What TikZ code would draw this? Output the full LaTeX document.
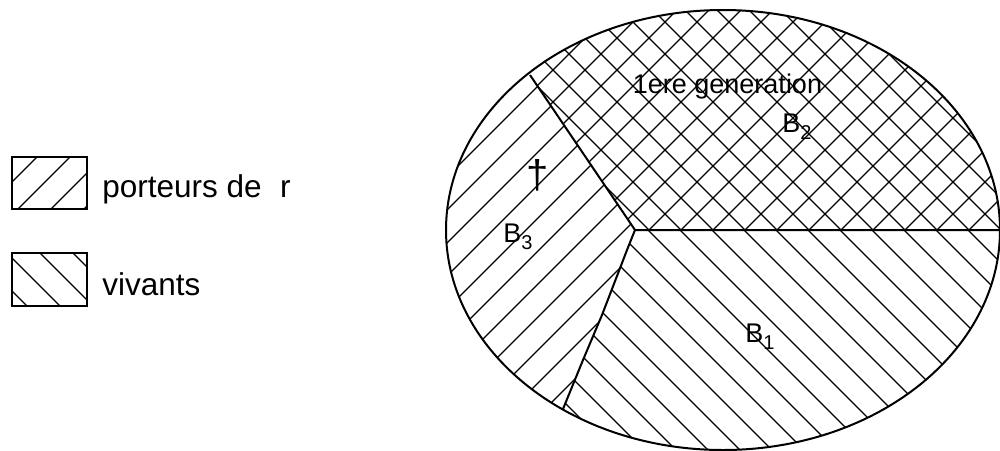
\documentclass[tikz,border=0pt]{standalone}
\usepackage{fontspec}
\setmainfont{Liberation Sans}
\newcommand\sbs[1]{\raisebox{-3.5pt}{\fontsize{10}{10}\selectfont #1}}
\begin{document}
\begin{tikzpicture}[x=0.5pt,y=-0.5pt,
  hatch/.style={line width=0.6pt},
  bound/.style={line width=1pt},
  legbox/.style={draw,line width=0.8pt,minimum width=37.5pt,minimum height=26pt,inner sep=0pt},
  legtext/.style={anchor=base west,inner sep=0pt,font=\fontsize{15.75}{18}\selectfont},
  lab/.style={anchor=base west,inner sep=0pt,font=\fontsize{13.5}{16}\selectfont}]
\useasboundingbox (0,0) rectangle (1000,450);
% key points of the partition
\coordinate (T) at (530,75);
\coordinate (C) at (635,230);
\coordinate (R) at (1010,230);
\coordinate (L1) at (627,250);
\coordinate (L2) at (602,315);
\coordinate (L3) at (583,360);
\coordinate (Bt) at (563,409);
\coordinate (Bx) at (542,460);
\coordinate (Tx) at (472,-10);
% B2 : cross hatching
\begin{scope}
  \clip (723,230) ellipse [x radius=138.5pt,y radius=110pt];
  \clip (Tx) -- (T) -- (C) -- (R) -- (1010,-10) -- cycle;
  \foreach \c in {399,431,...,1300} \draw[hatch] (\c+10,-10) -- (\c-470,470);
  \foreach \c in {195,227,...,1050} \draw[hatch] (\c-10,-10) -- (\c+470,470);
\end{scope}
% B3 : "/" hatching
\begin{scope}
  \clip (723,230) ellipse [x radius=138.5pt,y radius=110pt];
  \clip (Tx) -- (T) -- (C) -- (L1) -- (L2) -- (L3) -- (Bt) -- (Bx) -- (400,460) -- (400,-10) -- cycle;
  \foreach \c in {426,459,...,1120} \draw[hatch] (\c+10,-10) -- (\c-470,470);
\end{scope}
% B1 : "\" hatching
\begin{scope}
  \clip (723,230) ellipse [x radius=138.5pt,y radius=110pt];
  \clip (C) -- (R) -- (1010,460) -- (Bx) -- (Bt) -- (L3) -- (L2) -- (L1) -- cycle;
  \foreach \c in {66,98,...,810} \draw[hatch] (\c-10,-10) -- (\c+470,470);
\end{scope}
% outline and borders
\draw[bound] (723,230) ellipse [x radius=138.5pt,y radius=110pt];
\draw[bound] (T) -- (C) -- (R);
\draw[bound] (C) -- (L1) -- (L2) -- (L3) -- (Bt);
% labels
\node[lab,anchor=base] (gen) at (727.5,93) {1ere generation};
\node[lab] (b2) at (782,132) {B\sbs{2}};
\node[lab] (b3) at (503,242) {B\sbs{3}};
\node[lab] (b1) at (745,342) {B\sbs{1}};
\node[inner sep=0pt,font=\fontsize{20}{20}\selectfont] (dag) at (538,175) {†};
% legend
\node[legbox] (k1) at (49.5,183) {};
\node[legbox,minimum height=26.5pt] (k2) at (49.5,279.5) {};
\begin{scope}
  \clip (k1.south west) rectangle (k1.north east);
  \foreach \c in {161,194,...,300} \draw[hatch] (\c-140,140) -- (\c-230,230);
\end{scope}
\begin{scope}
  \clip (k2.south west) rectangle (k2.north east);
  \foreach \c in {-312,-279,...,-140} \draw[hatch] (\c+240,240) -- (\c+320,320);
\end{scope}
\node[legtext] (t1) at (102,197) {porteurs de\hspace{0.587em}r};
\node[legtext] (t2) at (102,295) {vivants};
\end{tikzpicture}
\end{document}
